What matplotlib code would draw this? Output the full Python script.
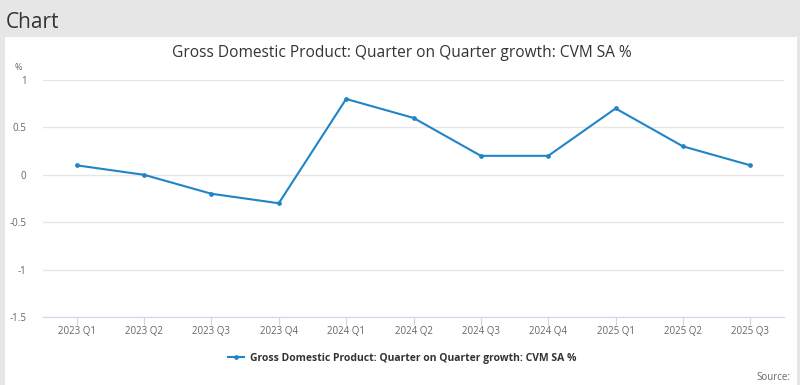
import matplotlib.pyplot as plt
from matplotlib.patches import Rectangle

quarters = ['2023 Q1', '2023 Q2', '2023 Q3', '2023 Q4', '2024 Q1', '2024 Q2',
            '2024 Q3', '2024 Q4', '2025 Q1', '2025 Q2', '2025 Q3']
growth = [0.1, 0.0, -0.2, -0.3, 0.8, 0.6, 0.2, 0.2, 0.7, 0.3, 0.1]
y_ticks = [-1.5, -1, -0.5, 0, 0.5, 1]
y_labels = ['-1.5', '-1', '-0.5', '0', '0.5', '1']
series_name = 'Gross Domestic Product: Quarter on Quarter growth: CVM SA %'

plt.rcParams['font.family'] = ['Open Sans', 'DejaVu Sans']
W, H = 800, 385
line_col = '#1f84c8'

fig = plt.figure(figsize=(W / 100, H / 100), dpi=100, facecolor='#e6e6e6')
fig.patches.append(Rectangle((5 / W, 0), 792 / W, (H - 37) / H,
                             transform=fig.transFigure, facecolor='white',
                             edgecolor='none', zorder=-1))
fig.text(6 / W, 1 - 22 / H, 'Chart', fontsize=15, color='#333333', va='center')
fig.text(402 / W, 1 - 53 / H, 'Gross Domestic Product: Quarter on Quarter growth: CVM SA %',
         fontsize=11.2, color='#333333', ha='center', va='center')
fig.text(14 / W, 1 - 67 / H, '%', fontsize=6.5, color='#666666', va='center')
fig.text(790 / W, 1 - 377 / H, 'Source:', fontsize=7, color='#666666', ha='right', va='center')

ax = fig.add_axes([43 / W, 1 - 317 / H, 741 / W, 237 / H])
ax.set_zorder(2)
ax.set_facecolor('none')
x = list(range(len(quarters)))
ax.plot(x, growth, color=line_col, lw=1.5, marker='o', ms=2.4, zorder=3,
        label=series_name)
ax.set_xlim(-0.5, len(quarters) - 0.5)
ax.set_ylim(-1.5, 1)
ax.set_yticks(y_ticks)
ax.set_yticklabels(y_labels)
ax.set_xticks(x)
ax.set_xticklabels(quarters)
ax.grid(axis='y', color='#e6e6e6', lw=1)
ax.set_axisbelow(True)
for s in ['top', 'right', 'left']:
    ax.spines[s].set_visible(False)
ax.spines['bottom'].set_color('#ccd6eb')
ax.tick_params(axis='y', length=0, pad=12, labelsize=7, labelcolor='#666666')
ax.tick_params(axis='x', length=5.8, color='#ccd6eb', labelsize=7, labelcolor='#666666', pad=1)

leg = fig.legend(loc='center', bbox_to_anchor=(402 / W, 1 - 358 / H), frameon=False,
                 prop={'weight': 'bold', 'size': 7.5}, handlelength=1.6, handletextpad=0.5)
for t in leg.get_texts():
    t.set_color('#333333')

fig.savefig('out.png', dpi=100, facecolor=fig.get_facecolor())
